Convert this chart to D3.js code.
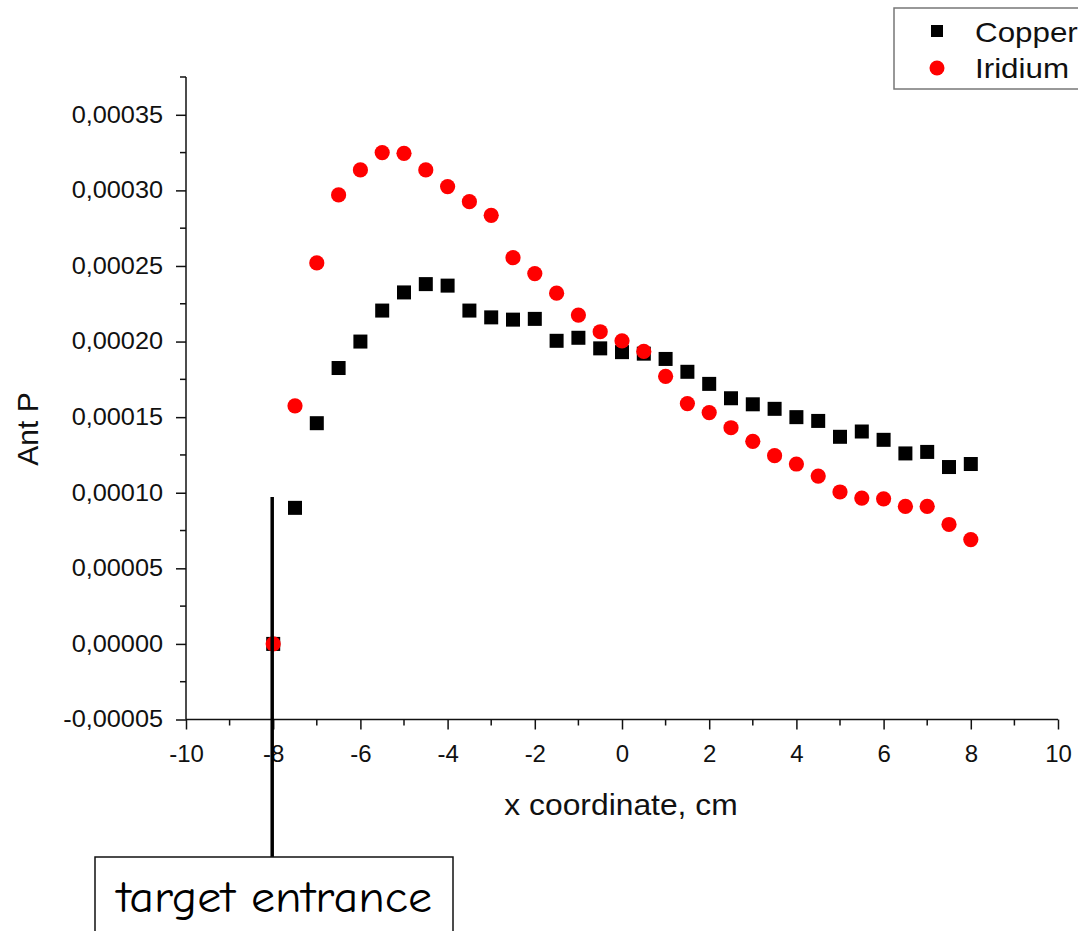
<!DOCTYPE html>
<html>
<head>
<meta charset="utf-8">
<script src="https://cdn.jsdelivr.net/npm/d3@7/dist/d3.min.js"></script>
<style>
  html, body { margin: 0; padding: 0; background: #fff; }
  svg { display: block; }
  .axis text { font-family: "Liberation Sans", Arial, sans-serif; font-size: 23px; fill: #111; }
  .axis path, .axis line { stroke: #111; stroke-width: 1.5px; }
  .lbl { font-family: "Liberation Sans", Arial, sans-serif; fill: #111; }
</style>
</head>
<body>
<svg id="chart" width="1078" height="931"></svg>
<script>
// x positions along the target (cm)
const xCoords = [-8, -7.5, -7, -6.5, -6, -5.5, -5, -4.5, -4, -3.5, -3, -2.5, -2, -1.5, -1, -0.5,
                 0, 0.5, 1, 1.5, 2, 2.5, 3, 3.5, 4, 4.5, 5, 5.5, 6, 6.5, 7, 7.5, 8];

// Copper
const copper = [0, 0.0000900, 0.0001460, 0.0001825, 0.0002000, 0.0002205, 0.0002325, 0.0002380, 0.0002370,
                0.0002205, 0.0002160, 0.0002145, 0.0002150, 0.0002005, 0.0002025, 0.0001955,
                0.0001930, 0.0001920, 0.0001885, 0.0001800, 0.0001720, 0.0001625, 0.0001585,
                0.0001555, 0.0001500, 0.0001475, 0.0001370, 0.0001405, 0.0001350, 0.0001260,
                0.0001270, 0.0001170, 0.0001190];

// Iridium
const iridium = [0, 0.0001575, 0.0002520, 0.0002970, 0.0003135, 0.0003250, 0.0003245, 0.0003135, 0.0003025,
                 0.0002925, 0.0002835, 0.0002555, 0.0002450, 0.0002320, 0.0002175, 0.0002065,
                 0.0002005, 0.0001935, 0.0001770, 0.0001590, 0.0001530, 0.0001430, 0.0001340,
                 0.0001245, 0.0001190, 0.0001110, 0.0001005, 0.0000965, 0.0000960, 0.0000910,
                 0.0000910, 0.0000790, 0.0000690];

const seriesNames = ["Copper", "Iridium"];
const xTicks = [-10, -8, -6, -4, -2, 0, 2, 4, 6, 8, 10];
const yTicks = [-0.00005, 0, 0.00005, 0.0001, 0.00015, 0.0002, 0.00025, 0.0003, 0.00035];
const entranceX = -8;
const entranceText = "target entrance";

const svg = d3.select("#chart");

const x = d3.scaleLinear().domain([-10, 10]).range([186, 1058]);
const y = d3.scaleLinear().domain([-0.00005, 0.000375]).range([719.5, 77]);

const locale = d3.formatLocale({ decimal: ",", thousands: ".", grouping: [3], currency: ["", ""], minus: "-" });
const yFmt = locale.format(".5f");
const xFmt = locale.format("d");

// minor ticks
const xMinor = d3.range(-9, 10, 2);
const yMinor = d3.range(-0.000025, 0.00038, 0.00005);

// x axis
const gx = svg.append("g").attr("class", "axis")
  .attr("transform", `translate(0,${y.range()[0]})`)
  .call(d3.axisBottom(x).tickValues(xTicks).tickSize(10).tickFormat(xFmt));
gx.select(".domain").attr("d", `M${x.range()[0]},0H${x.range()[1]}`);
gx.selectAll(".tick text").attr("y", 42.5).attr("dy", null)
  .style("font-size", "24px");
gx.append("g").selectAll("line").data(xMinor).join("line")
  .attr("x1", d => x(d)).attr("x2", d => x(d)).attr("y1", 0).attr("y2", 6)
  .attr("stroke", "#111").attr("stroke-width", 1.5);

// y axis
const ySx = 1.1;
const gy = svg.append("g").attr("class", "axis")
  .attr("transform", `translate(${x.range()[0]},0)`)
  .call(d3.axisLeft(y).tickValues(yTicks).tickSize(10).tickFormat(yFmt));
gy.select(".domain").attr("d", `M0,${y.range()[0]}V${y.range()[1]}`);
gy.selectAll(".tick text").attr("x", -23 / ySx).attr("dy", "0.32em")
  .attr("transform", `scale(${ySx},1)`);
gy.append("g").selectAll("line").data(yMinor).join("line")
  .attr("x1", 0).attr("x2", -6).attr("y1", d => y(d)).attr("y2", d => y(d))
  .attr("stroke", "#111").attr("stroke-width", 1.5);

// axis titles
svg.append("text").attr("class", "lbl")
  .attr("transform", "translate(621,815) scale(1.06,1)")
  .attr("text-anchor", "middle")
  .style("font-size", "30px")
  .text("x coordinate, cm");
svg.append("text").attr("class", "lbl")
  .attr("transform", "translate(38,429) rotate(-90)")
  .attr("text-anchor", "middle")
  .style("font-size", "30px")
  .text("Ant P");

// Copper squares
const sq = 14;
svg.append("g").selectAll("rect").data(xCoords.map((d, i) => [d, copper[i]])).join("rect")
  .attr("x", d => x(d[0]) - sq / 2).attr("y", d => y(d[1]) - sq / 2)
  .attr("width", sq).attr("height", sq).attr("fill", "#000");

// Iridium circles
svg.append("g").selectAll("circle").data(xCoords.map((d, i) => [d, iridium[i]])).join("circle")
  .attr("cx", d => x(d[0])).attr("cy", d => y(d[1])).attr("r", 7.6).attr("fill", "#f00");

// legend
const lg = svg.append("g");
lg.append("rect").attr("x", 894).attr("y", 8).attr("width", 200).attr("height", 81)
  .attr("fill", "#fff").attr("stroke", "#777").attr("stroke-width", 1.5);
lg.append("rect").attr("x", 931).attr("y", 25).attr("width", 12).attr("height", 12).attr("fill", "#000");
lg.append("circle").attr("cx", 937).attr("cy", 68).attr("r", 7.5).attr("fill", "#f00");
const lgSx = 1.12;
lg.selectAll("text").data(seriesNames).join("text").attr("class", "lbl")
  .attr("x", 975 / lgSx).attr("y", (d, i) => 42 + i * 36)
  .attr("transform", `scale(${lgSx},1)`)
  .style("font-size", "28px")
  .text(d => d);

// target entrance marker
svg.append("line")
  .attr("x1", x(entranceX) - 1).attr("x2", x(entranceX) - 1)
  .attr("y1", 497).attr("y2", 858)
  .attr("stroke", "#000").attr("stroke-width", 3.5);
svg.append("rect").attr("x", 95).attr("y", 857).attr("width", 358).attr("height", 90)
  .attr("fill", "#fff").attr("stroke", "#111").attr("stroke-width", 1.5);
svg.append("text")
  .attr("x", 117).attr("y", 912)
  .attr("textLength", 315).attr("lengthAdjust", "spacingAndGlyphs")
  .style("font-family", "'Comic Sans MS', 'Comic Neue', 'DejaVu Sans', sans-serif").style("font-size", "45px").style("fill", "#000")
  .text(entranceText);
</script>
</body>
</html>
